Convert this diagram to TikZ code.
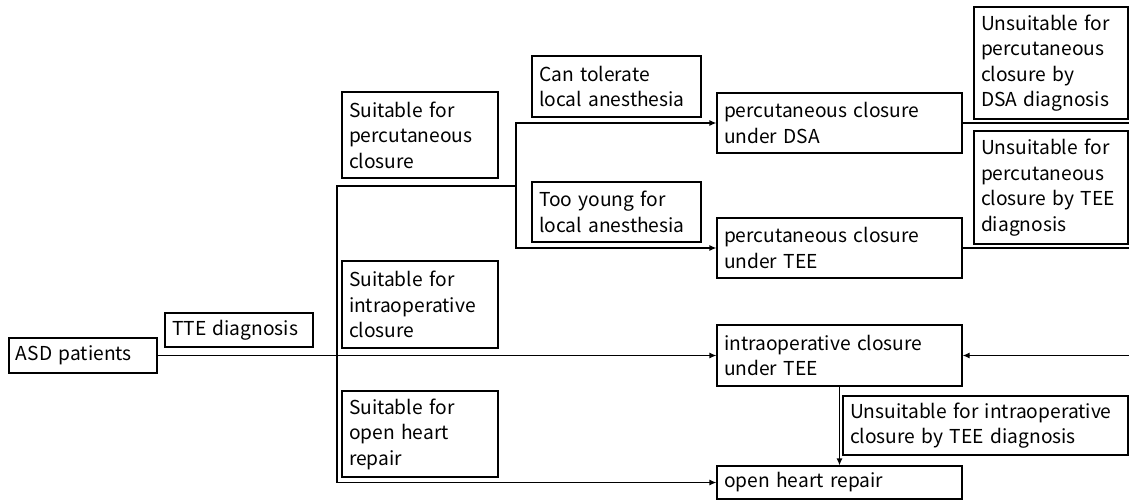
\documentclass[tikz,border=0pt]{standalone}
\usepackage{fontspec}
\setmainfont{Noto Sans CJK SC}
\usetikzlibrary{arrows.meta}
\begin{document}
\begin{tikzpicture}[x=1pt,y=-1pt,
  every node/.style={font=\fontsize{19.2pt}{25.5pt}\selectfont},
  box/.style={draw,line width=1.2pt,rectangle,inner xsep=0pt,inner ysep=0pt,align=left},
  conn/.style={line width=1.2pt},
  arr/.style={conn,-{Latex[length=7pt,width=6pt]}}]
\useasboundingbox (0,0) rectangle (1129,500);
\newcommand{\bx}[6]{% name, cx, cy, w, h, text
  \node[box,minimum width=#4pt,minimum height=#5pt,text width=#4pt-14pt] (#1) at (#2,#3) {#6};}
\bx{asd}{83}{355.5}{148}{35}{ASD patients}
\bx{tte}{239}{330}{148}{34}{TTE diagnosis}
\bx{sp}{420}{135}{156}{86}{Suitable for\\percutaneous\\closure}
\bx{sio}{420}{304.5}{156}{87}{Suitable for\\intraoperative\\closure}
\bx{soh}{420}{434}{156}{86}{Suitable for\\open heart\\repair}
\bx{can}{616.5}{86.5}{169}{61}{Can tolerate\\local anesthesia}
\bx{young}{616.5}{212}{169}{60}{Too young for\\local anesthesia}
\bx{pdsa}{839.5}{123}{245}{60}{percutaneous closure\\under DSA}
\bx{ptee}{839.5}{248}{245}{60}{percutaneous closure\\under TEE}
\bx{iop}{839.5}{355.5}{245}{61}{intraoperative closure\\under TEE}
\bx{ohr}{839.5}{482.5}{245}{33}{open heart repair}
\bx{udsa}{1051}{63}{154}{112}{Unsuitable for\\percutaneous\\closure by\\DSA diagnosis}
\bx{utee}{1051}{187.5}{154}{113}{Unsuitable for\\percutaneous\\\mbox{closure by TEE}\\diagnosis}
\bx{uio}{985.5}{425.5}{285}{59}{Unsuitable for intraoperative\\closure by TEE diagnosis}
\coordinate (j1) at (337,355.5);
\coordinate (j0) at (337,186);
\coordinate (j2) at (516,186);
\coordinate (e1) at (1129,123);
\coordinate (e2) at (1129,248);
\coordinate (e3) at (1129,355.5);
\draw[arr] (asd.east) -- (iop.west);
\draw[conn] (j1) -- (j0) -- (j2);
\draw[arr] (j2) |- (pdsa.west);
\draw[arr] (j2) |- (ptee.west);
\draw[arr] (j1) |- (ohr.west);
\draw[conn] (pdsa.east) -- (e1);
\draw[conn] (ptee.east) -- (e2);
\draw[arr] (e3) -- (iop.east);
\draw[arr] (iop.south) -- (ohr.north);
\end{tikzpicture}
\end{document}
